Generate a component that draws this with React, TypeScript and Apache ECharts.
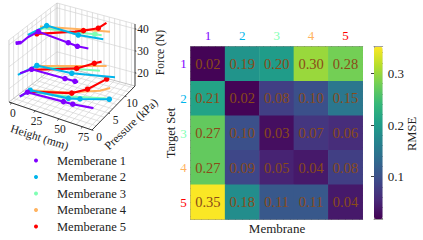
import React, { useEffect, useRef } from "react";
import * as echarts from "echarts";

const FONT = "Liberation Serif";
const COLORS = ["#8000ff", "#00b5eb", "#80ffb4", "#ffb360", "#ff0000"];
const NAMES = ["Memberane 1", "Memberane 2", "Memberane 3", "Memberane 4", "Memberane 5"];
const LABELS = ["1", "2", "3", "4", "5"];
const VIRIDIS = ["#440154", "#482878", "#3e4989", "#31688e", "#26828e", "#1f9e89", "#35b779", "#6ece58", "#b5de2b", "#fde725"];

const RMSE = [
  [0.02, 0.19, 0.2, 0.3, 0.28],
  [0.21, 0.02, 0.08, 0.1, 0.15],
  [0.27, 0.1, 0.03, 0.07, 0.06],
  [0.27, 0.09, 0.05, 0.04, 0.08],
  [0.35, 0.18, 0.11, 0.11, 0.04],
];

// [height mm, pressure kPa, force N]
const M1 = [
  [[1, 0.8, 40.3], [1, 2.3, 38.6], [1, 4.1, 38.7], [1.2, 6.9, 37.6], [34, 6.9, 36.7], [44, 6.9, 36.3], [56, 6.9, 36.8]],
  [[1, 2, 25], [1.5, 5, 23], [37.7, 5, 23.5], [48.6, 5, 23.7], [52, 5, 23.8]],
  [[1, 1.9, 14.6], [1.8, 3.8, 14.2], [40.6, 3.8, 15.1], [50.7, 3.8, 15.3], [73, 3.8, 16.5]],
];
const M1_START = [[1, 0.8, 40.3], [1, 1.5, 39.5], [1, 2.3, 38.6]];
const M2 = [
  [[1, 4.1, 39.7], [1.5, 9.1, 37.5], [36.5, 9.1, 37.4], [64.2, 9.1, 38.8]],
  [[1, 1.4, 25.1], [1.6, 6.4, 22.9], [39.8, 6.4, 24.2], [81.9, 7.8, 25.6]],
  [[1, 2, 14.4], [1.6, 4.6, 14], [40.6, 5.2, 14.6], [51.8, 5.6, 15.2], [80.4, 6.5, 17.4]],
];
const M3 = [
  [[1, 5.5, 39], [1.5, 8.2, 37.5], [27.2, 8.2, 39.1], [58.4, 8.2, 41.7], [65.8, 8.2, 42.1]],
  [[1.4, 6, 22.9], [33.8, 6.5, 25.6], [67.8, 7.15, 27.8]],
  [[1.5, 4.1, 14], [37.8, 5.5, 14.7], [77.5, 6.5, 17.4]],
];
const M4 = [
  [[1, 7.4, 39.2], [32.2, 9.75, 38.7], [61.8, 11.7, 38.1]],
  [[1.6, 6.4, 22.7], [35.8, 7.4, 25.6], [70.3, 8.45, 28.3]],
  [[1.5, 4.6, 14], [37.8, 5.5, 16.5], [70.2, 6.5, 20], [80.2, 6.8, 22]],
];
const M5 = [
  [[1.6, 6.4, 37.3], [32.9, 9.1, 38.5], [41, 9.4, 39.5], [56.2, 9.75, 41.9], [60.5, 11, 43]],
  [[1.4, 5, 22.7], [44.7, 6.5, 26.9], [61.6, 7.15, 30.4], [67.2, 7.8, 30.9]],
  [[1.5, 4.1, 14], [43.2, 5.5, 16.9], [58.8, 5.9, 20.1], [77.5, 6.5, 26.2]],
];
const MARKS = [
  [[3, 4, 5], [1, 2, 3], [1, 2, 3]],
  [[1, 2], [1, 2], [1, 2, 3, 4]],
  [[3], [], []],
  [[], [], []],
  [[0, 2, 3], [1, 2], [1, 2, 3]],
];
const ALL = [M1, M2, M3, M4, M5];
const DRAW_ORDER = [2, 3, 4, 1, 0];

const H_RANGE = [-3, 85];
const P_RANGE = [0, 13];
const F_RANGE = [14, 42.2];
const H_TICKS = [0, 25, 50, 75];
const P_TICKS = [0, 5, 10];
const F_TICKS = [20, 30, 40];
const H_GRID = [0, 6, 12, 18, 25, 31, 37, 43, 50, 56, 62, 68, 75, 81];
const P_GRID = [0, 1.25, 2.5, 3.75, 5, 6.25, 7.5, 8.75, 10, 11.25, 12.5];
const F_GRID = [20, 30, 40];

const HEAT_TICKS = [1, 2, 3, 4, 5];
const HEAT_MINOR = [0.6, 0.8, 1.2, 1.4, 1.6, 1.8, 2.2, 2.4, 2.6, 2.8, 3.2, 3.4, 3.6, 3.8, 4.2, 4.4, 4.6, 4.8, 5.2, 5.4];
const CB_RANGE = [0.0176, 0.3515];
const CB_TICKS = [0.1, 0.2, 0.3];
const CB_MINOR = [0.02, 0.04, 0.06, 0.08, 0.12, 0.14, 0.16, 0.18, 0.22, 0.24, 0.26, 0.28, 0.32, 0.34];

function project([h, p, f]: number[]) {
  const u = (h - H_RANGE[0]) / (H_RANGE[1] - H_RANGE[0]);
  const v = (p - P_RANGE[0]) / (P_RANGE[1] - P_RANGE[0]);
  const w = (f - F_RANGE[0]) / (F_RANGE[1] - F_RANGE[0]);
  return [9 + 83 * u + 48 * v - 5 * u * v, 102 + 28 * u - 37 * v - 7 * u * v - 62 * w];
}

function frame(points: number[][], color: string, width: number) {
  return {
    type: "line",
    data: points.map(project),
    showSymbol: false,
    silent: true,
    lineStyle: { color, width },
    z: 1,
  };
}

function buildOption() {
  const [h0, h1] = H_RANGE;
  const [p0, p1] = P_RANGE;
  const [f0, f1] = F_RANGE;
  const series: any[] = [];
  const grey = "#d2d2d2";
  H_GRID.forEach((h) => {
    series.push(frame([[h, p0, f0], [h, p1, f0], [h, p1, f1]], grey, 0.7));
  });
  P_GRID.forEach((p) => {
    series.push(frame([[h1, p, f0], [h0, p, f0], [h0, p, f1]], grey, 0.7));
  });
  F_GRID.forEach((f) => {
    series.push(frame([[h0, p0, f], [h0, p1, f], [h1, p1, f]], grey, 0.7));
  });
  series.push(frame([[h0, p0, f1], [h0, p1, f1], [h1, p1, f1]], grey, 0.7));
  series.push(frame([[h0, p0, f0], [h0, p0, f1]], grey, 0.7));
  series.push(frame([[h0, p1, f0], [h0, p1, f1]], "#b5b5b5", 0.8));
  series.push(frame([[h0, p1, f0], [h1, p1, f0]], "#b5b5b5", 0.8));
  series.push(frame([[h0, p1, f0], [h0, p0, f0]], "#b5b5b5", 0.8));
  series.push(frame([[h0, p0, f0], [h1, p0, f0], [h1, p1, f0], [h1, p1, f1]], "#222", 0.9));
  H_TICKS.forEach((h) => series.push(frame([[h, p0, f0], [h, -0.5, f0]], "#222", 0.8)));
  P_TICKS.forEach((p) => series.push(frame([[h1, p, f0], [h1 + 1.5, p, f0]], "#222", 0.8)));
  F_TICKS.forEach((f) => series.push(frame([[h1, p1, f], [h1 + 1.5, p1, f]], "#222", 0.8)));

  DRAW_ORDER.forEach((m, order) => {
    ALL[m].forEach((pts, li) => {
      series.push({
        type: "line",
        name: NAMES[m],
        data: pts.map((pt, i) => ({ value: project(pt), symbolSize: MARKS[m][li].includes(i) ? 5.5 : 0 })),
        showSymbol: true,
        showAllSymbol: true,
        symbol: "circle",
        itemStyle: { color: COLORS[m] },
        lineStyle: { color: COLORS[m], width: 2.1 },
        z: 3 + order,
        silent: true,
      });
    });
  });
  series.push({
    type: "line",
    name: NAMES[0],
    data: M1_START.map(project),
    showSymbol: false,
    lineStyle: { color: COLORS[0], width: 3.6 },
    z: 8,
    silent: true,
  });

  const cells: number[][] = [];
  RMSE.forEach((row, r) => row.forEach((v, c) => cells.push([c, r, v])));
  const heatIndex = series.length;
  series.push({
    type: "heatmap",
    xAxisIndex: 1,
    yAxisIndex: 1,
    data: cells,
    label: {
      show: true,
      fontFamily: FONT,
      fontSize: 14.5,
      color: "#8a4b18",
      formatter: (p: any) => p.value[2].toFixed(2),
    },
    silent: true,
    z: 2,
  });

  const tickColor = "#111";
  const plainAxis = (extra: any) => ({
    type: "value",
    axisLine: { show: false },
    splitLine: { show: false },
    axisLabel: { show: false },
    axisTick: { show: false },
    ...extra,
  });
  const heatRange = { min: 0.5, max: 5.5 };
  const inTick = (values: number[], length: number) => ({
    show: true,
    inside: true,
    length,
    customValues: values,
    lineStyle: { color: tickColor, width: 0.8 },
  });
  const frameLine = { show: true, lineStyle: { color: "#777", width: 0.8 } };
  const cbLine = { show: true, lineStyle: { color: "#888", width: 0.8 } };

  const xAxis: any[] = [
    plainAxis({ gridIndex: 0, min: 0, max: 423 }),
    {
      type: "category",
      gridIndex: 1,
      position: "top",
      data: LABELS,
      axisLine: { show: false },
      axisTick: { show: false },
      splitLine: { show: false },
      axisLabel: { fontFamily: FONT, fontSize: 13, margin: 5, color: (_: any, i: number) => COLORS[i] },
    },
    plainAxis({ gridIndex: 2, position: "bottom", ...heatRange, axisLine: frameLine, axisTick: inTick(HEAT_TICKS, 3) }),
    plainAxis({ gridIndex: 2, position: "top", ...heatRange, axisLine: frameLine, axisTick: inTick(HEAT_TICKS, 3) }),
    plainAxis({ gridIndex: 3, position: "bottom", ...heatRange, axisTick: inTick(HEAT_MINOR, 1.6) }),
    plainAxis({ gridIndex: 3, position: "top", ...heatRange, axisTick: inTick(HEAT_MINOR, 1.6) }),
    plainAxis({ gridIndex: 4, min: 0, max: 1, axisLine: cbLine }),
    plainAxis({ gridIndex: 5, min: 0, max: 1, position: "top", axisLine: cbLine }),
  ];
  const yAxis: any[] = [
    plainAxis({ gridIndex: 0, min: 0, max: 240, inverse: true }),
    {
      type: "category",
      gridIndex: 1,
      inverse: true,
      data: LABELS,
      axisLine: { show: false },
      axisTick: { show: false },
      splitLine: { show: false },
      axisLabel: { fontFamily: FONT, fontSize: 13, margin: 4, color: (_: any, i: number) => COLORS[i] },
    },
    plainAxis({ gridIndex: 2, position: "left", ...heatRange, inverse: true, axisLine: frameLine, axisTick: inTick(HEAT_TICKS, 3) }),
    plainAxis({ gridIndex: 2, position: "right", ...heatRange, inverse: true, axisLine: frameLine, axisTick: inTick(HEAT_TICKS, 3) }),
    plainAxis({ gridIndex: 3, position: "left", ...heatRange, axisTick: inTick(HEAT_MINOR, 1.6) }),
    plainAxis({ gridIndex: 3, position: "right", ...heatRange, axisTick: inTick(HEAT_MINOR, 1.6) }),
    plainAxis({
      gridIndex: 4, position: "right", min: CB_RANGE[0], max: CB_RANGE[1],
      axisLine: cbLine,
      axisTick: inTick(CB_TICKS, 3),
      axisLabel: {
        show: true, fontFamily: FONT, fontSize: 13, color: "#222", margin: 5,
        customValues: CB_TICKS,
        formatter: (v: number) => v.toFixed(1),
      },
    }),
    plainAxis({ gridIndex: 5, position: "left", min: CB_RANGE[0], max: CB_RANGE[1], axisLine: cbLine }),
    plainAxis({ gridIndex: 5, position: "right", min: CB_RANGE[0], max: CB_RANGE[1], axisTick: inTick(CB_MINOR, 1.5) }),
  ];

  const text = (t: string, x: number, y: number, size: number, rotation = 0, fill = "#222") => ({
    type: "text",
    x,
    y,
    rotation,
    silent: true,
    z: 20,
    style: { text: t, fontFamily: FONT, fontSize: size, fill, align: "center", verticalAlign: "middle" },
  });
  const heatRect = { left: 190.7, top: 46.7, width: 172, height: 172.6 };
  const cbRect = { left: 374, top: 46.7, width: 8.7, height: 172.6 };

  return {
    animation: false,
    backgroundColor: "#fff",
    grid: [{ left: 0, top: 0, width: 423, height: 240 }, heatRect, heatRect, heatRect, cbRect, cbRect],
    xAxis,
    yAxis,
    series,
    legend: {
      data: NAMES,
      orient: "vertical",
      left: 34,
      top: 153.5,
      padding: 0,
      itemWidth: 32,
      itemHeight: 4,
      itemGap: 2.5,
      icon: "circle",
      selectedMode: false,
      textStyle: { fontFamily: FONT, fontSize: 12.5, color: "#222", lineHeight: 14 },
    },
    visualMap: {
      type: "continuous",
      seriesIndex: heatIndex,
      min: CB_RANGE[0],
      max: CB_RANGE[1],
      left: cbRect.left,
      top: cbRect.top,
      itemWidth: cbRect.width,
      itemHeight: cbRect.height,
      padding: 0,
      calculable: false,
      text: ["", ""],
      textGap: 0,
      showLabel: false,
      inRange: { color: VIRIDIS },
      z: 1,
    },
    graphic: [
      ...H_TICKS.map((h) => {
        const [x, y] = project([h, 0, 14]);
        return text(String(h), x + 1, y + 10, 11.5);
      }),
      ...P_TICKS.map((p) => {
        const [x, y] = project([85, p, 14]);
        return text(String(p), x + 7, y + 7, 11.5);
      }),
      ...F_TICKS.map((f) => {
        const [x, y] = project([85, 13, f]);
        return text(String(f), x + 8, y, 11.5);
      }),
      text("Height (mm)", 39.5, 137.5, 11.6, -0.31),
      text("Pressure (kPa)", 131, 124, 11.8, 0.76),
      text("Force (N)", 160, 52.5, 11.6, Math.PI / 2),
      text("Target Set", 171, 133, 12.5, Math.PI / 2),
      text("Membrane", 277, 228, 13),
      text("RMSE", 412, 134, 12.5, Math.PI / 2),
    ],
  };
}

export default function App() {
  const ref = useRef<HTMLDivElement>(null);
  useEffect(() => {
    document.body.style.margin = "0";
    const chart = echarts.init(ref.current!, undefined, { renderer: "svg" });
    chart.setOption(buildOption() as any);
    return () => chart.dispose();
  }, []);
  return <div ref={ref} style={{ width: 423, height: 240 }} />;
}
